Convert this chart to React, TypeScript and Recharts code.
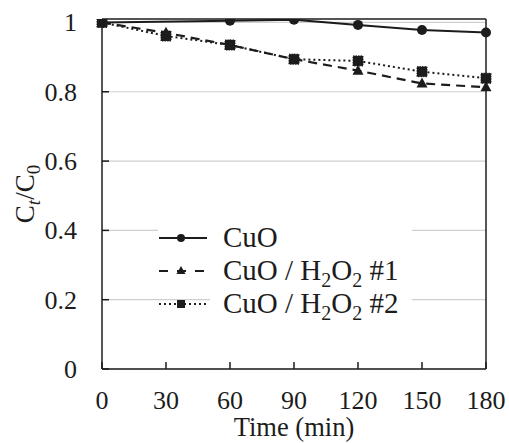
import { CartesianGrid, Line, LineChart, ReferenceLine, XAxis, YAxis } from "recharts";

const times = [0, 30, 60, 90, 120, 150, 180];
const cuo = [1.0, null, 1.005, 1.008, 0.993, 0.978, 0.971];
const h2o2First = [1.0, 0.97, 0.935, 0.894, 0.861, 0.824, 0.813];
const h2o2Second = [1.0, 0.961, 0.935, 0.894, 0.889, 0.858, 0.839];
const xTicks = [0, 30, 60, 90, 120, 150, 180];
const yTicks = [0, 0.2, 0.4, 0.6, 0.8, 1];

const data = times.map((t, i) => ({
  t,
  cuo: cuo[i],
  first: h2o2First[i],
  second: h2o2Second[i],
}));

const FONT = "Liberation Serif";
const INK = "#1c1c1c";

const XTick = ({ x, y, payload }: any) => (
  <g>
    <line x1={x} x2={x} y1={y} y2={y - 7} stroke={INK} strokeWidth={1.5} />
    <text x={x} y={y + 40} textAnchor="middle" fontSize={26} style={{ fontFamily: FONT }} fill={INK}>
      {payload.value}
    </text>
  </g>
);

const YTick = ({ x, y, payload }: any) => (
  <g>
    <line x1={x} x2={x + 7} y1={y} y2={y} stroke={INK} strokeWidth={1.5} />
    <text x={x - 25} y={y + 9} textAnchor="end" fontSize={26} style={{ fontFamily: FONT }} fill={INK}>
      {payload.value}
    </text>
  </g>
);

const CircleDot = ({ cx, cy, value }: any) =>
  value == null ? null : <circle cx={cx} cy={cy} r={5} fill={INK} />;

const TriDot = ({ cx, cy }: any) => (
  <path d={`M${cx},${cy - 6} L${cx + 5.5},${cy + 4} L${cx - 5.5},${cy + 4} Z`} fill={INK} />
);

const SquareDot = ({ cx, cy }: any) => (
  <rect x={cx - 5} y={cy - 5} width={10} height={10} fill={INK} stroke={INK} strokeWidth={1} strokeDasharray="1.5 1" />
);

const legendRows = [
  { name: ["CuO"], dash: undefined, marker: "circle", symbolBg: true },
  { name: ["CuO / H", "2", "O", "2", " #1"], dash: "9 9", marker: "tri", symbolBg: false },
  { name: ["CuO / H", "2", "O", "2", " #2"], dash: "2 3", marker: "square", symbolBg: false },
];

function LegendSymbol({ dash, marker }: { dash?: string; marker: string }) {
  return (
    <svg width={50} height={20} style={{ display: "block" }}>
      <line x1={1} x2={49} y1={10} y2={10} stroke={INK} strokeWidth={2} strokeDasharray={dash} />
      {marker === "circle" && <circle cx={23} cy={10} r={4} fill={INK} />}
      {marker === "tri" && <path d="M23,5 L27.5,13 L18.5,13 Z" fill={INK} />}
      {marker === "square" && <rect x={19} y={6} width={8} height={8} fill={INK} />}
    </svg>
  );
}

function ChartLegend() {
  return (
    <div style={{ position: "absolute", left: 158, top: 221, fontFamily: FONT, color: INK }}>
      {legendRows.map((row, i) => (
        <div key={i} style={{ display: "flex", height: 33, alignItems: "center" }}>
          <div
            style={{
              width: 52,
              height: 33,
              display: "flex",
              alignItems: "center",
              background: row.symbolBg ? "#fff" : "transparent",
            }}
          >
            <LegendSymbol dash={row.dash} marker={row.marker} />
          </div>
          <div
            style={{
              width: 202,
              height: 33,
              lineHeight: "33px",
              paddingLeft: 13,
              boxSizing: "border-box",
              background: "#fff",
              fontSize: 29,
              whiteSpace: "nowrap",
            }}
          >
            {row.name.map((part, j) =>
              j % 2 === 1 ? (
                <span key={j} style={{ fontSize: 20, position: "relative", top: 7 }}>
                  {part}
                </span>
              ) : (
                <span key={j}>{part}</span>
              )
            )}
          </div>
        </div>
      ))}
    </div>
  );
}

export default function App() {
  return (
    <div style={{ position: "absolute", left: 0, top: 0, width: 509, height: 443, background: "#fff", fontFamily: FONT }}>
      <LineChart
        width={509}
        height={443}
        data={data}
        margin={{ top: 19, right: 23, left: 0, bottom: 0 }}
        style={{ fontFamily: FONT }}
      >
        <CartesianGrid vertical={false} stroke="#cfcfcf" strokeWidth={1.2} horizontalValues={yTicks} />
        <XAxis
          dataKey="t"
          type="number"
          domain={[0, 180]}
          ticks={xTicks}
          height={74}
          tickSize={0}
          tickMargin={0}
          tick={<XTick />}
          axisLine={{ stroke: INK, strokeWidth: 1.5 }}
          label={{
            content: () => (
              <text x={294} y={436} textAnchor="middle" fontSize={26.5} style={{ fontFamily: FONT }} fill={INK}>
                Time (min)
              </text>
            ),
          }}
        />
        <YAxis
          type="number"
          domain={[0, 1.01]}
          ticks={yTicks}
          width={102}
          allowDataOverflow
          tickSize={0}
          tickMargin={0}
          tick={<YTick />}
          axisLine={{ stroke: INK, strokeWidth: 1.5 }}
          label={{
            content: () => (
              <text
                transform="translate(34,194) rotate(-90)"
                textAnchor="middle"
                fontSize={27}
                style={{ fontFamily: FONT }}
                fill={INK}
              >
                C
                <tspan dy={6} fontSize={19} fontStyle="italic">
                  t
                </tspan>
                <tspan dy={-6}>/C</tspan>
                <tspan dy={6} fontSize={19}>
                  0
                </tspan>
              </text>
            ),
          }}
        />
        <ReferenceLine y={1.01} stroke={INK} strokeWidth={1.5} />
        <ReferenceLine x={180} stroke={INK} strokeWidth={1.5} />
        <Line
          dataKey="second"
          stroke={INK}
          strokeWidth={2}
          strokeDasharray="2 3"
          dot={<SquareDot />}
          isAnimationActive={false}
        />
        <Line
          dataKey="first"
          stroke={INK}
          strokeWidth={2.2}
          strokeDasharray="9 6"
          dot={<TriDot />}
          isAnimationActive={false}
        />
        <Line
          dataKey="cuo"
          stroke={INK}
          strokeWidth={2}
          connectNulls
          dot={<CircleDot />}
          isAnimationActive={false}
        />
      </LineChart>
      <ChartLegend />
    </div>
  );
}
